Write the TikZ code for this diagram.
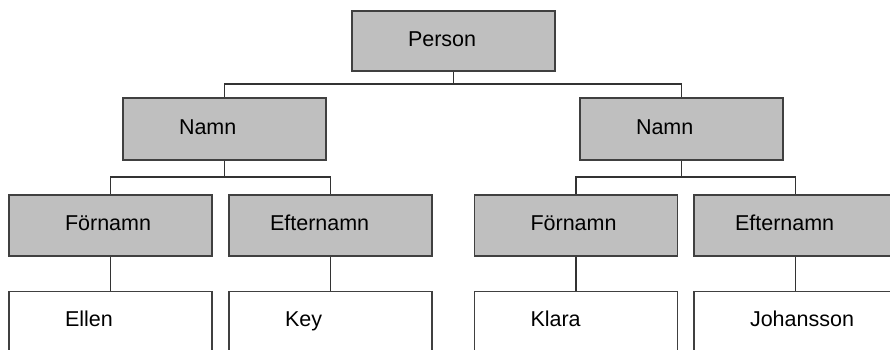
\documentclass[tikz,border=0pt]{standalone}
\usepackage{fontspec}
\setmainfont{Liberation Sans}
\begin{document}
\begin{tikzpicture}[x=1pt,y=-1pt,
  box/.style={draw=black!75, line width=1.3pt, minimum width=203pt, align=left,
    text width=91pt, inner xsep=56pt, inner ysep=0pt, text height=15pt, text depth=5pt,
    font=\fontsize{21.5}{25}\selectfont},
  graybox/.style={box, fill=black!25, minimum height=61pt},
  whitebox/.style={box, fill=white, minimum height=60pt},
  wide/.style={inner xsep=41pt, text width=121pt},
  conn/.style={draw=black!80, line width=1.1pt}]
\clip (0,0) rectangle (890,349);
\fill[white] (0,0) rectangle (890,349);
% level 0
\node[graybox, minimum height=60pt] (P) at (453.5,41) {Person};
% level 1
\node[graybox, minimum height=62pt] (NL) at (224.5,129) {Namn};
\node[graybox, minimum height=62pt] (NR) at (681.5,129) {Namn};
% level 2
\node[graybox] (FL) at (110.5,225.5) {Förnamn};
\node[graybox, wide] (EL) at (330.5,225.5) {Efternamn};
\node[graybox] (FR) at (576,225.5) {Förnamn};
\node[graybox, wide] (ER) at (795.5,225.5) {Efternamn};
% level 3
\node[whitebox, anchor=north] (V1) at (110.5,291) {Ellen};
\node[whitebox, anchor=north] (V2) at (330.5,291) {Key};
\node[whitebox, anchor=north] (V3) at (576,291) {Klara};
\node[whitebox, anchor=north] (V4) at (795.5,291) {Johansson};
% buses
\coordinate (b0) at (453.5,84);
\coordinate (bL) at (224.5,177);
\coordinate (bR) at (681.5,177);
\draw[conn] (P.south) -- (b0);
\draw[conn] (NL.north) |- (b0) -| (NR.north);
\draw[conn] (NL.south) -- (bL);
\draw[conn] (FL.north) |- (bL) -| (EL.north);
\draw[conn] (NR.south) -- (bR);
\draw[conn] (FR.north) |- (bR) -| (ER.north);
\draw[conn] (FL.south) -- (V1.north);
\draw[conn] (EL.south) -- (V2.north);
\draw[conn] (FR.south) -- (V3.north);
\draw[conn] (ER.south) -- (V4.north);
\end{tikzpicture}
\end{document}
